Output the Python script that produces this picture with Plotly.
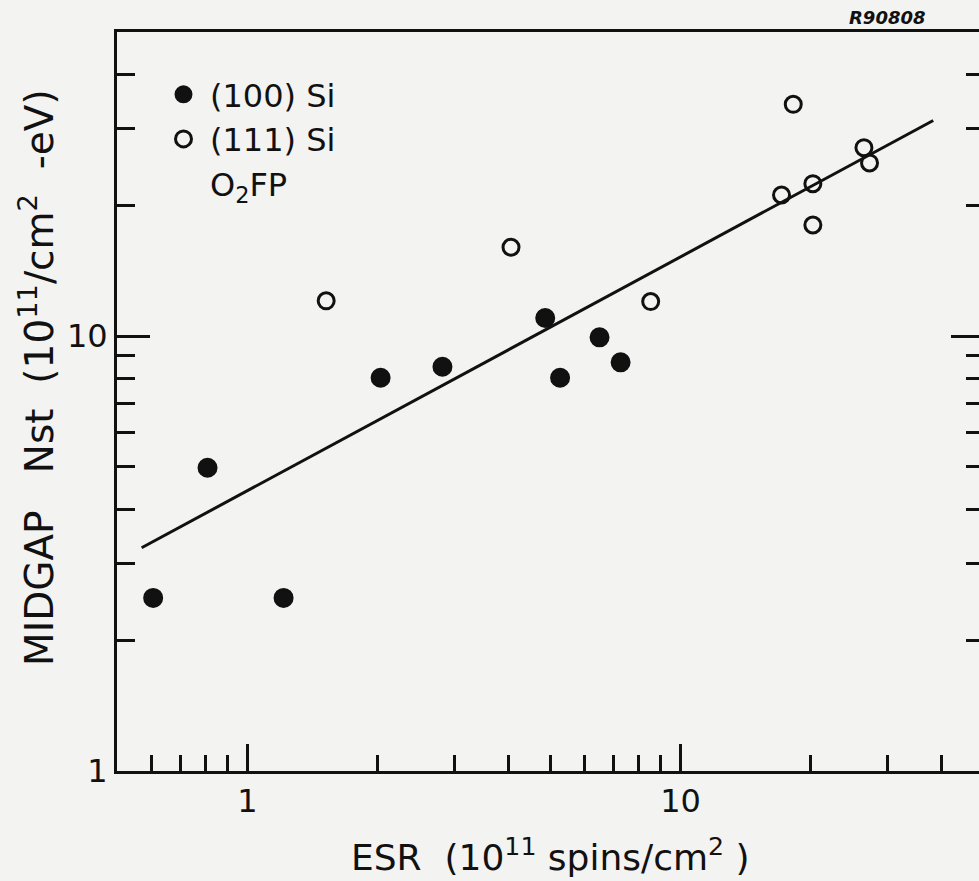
import plotly.graph_objects as go
import math

# (100) Si  -- filled circles
esr_100 = [0.606, 0.809, 1.212, 2.03, 2.82, 4.87, 5.27, 6.50, 7.27]
nst_100 = [2.50, 4.98, 2.50, 8.02, 8.50, 11.0, 8.02, 9.93, 8.70]

# (111) Si -- open circles
esr_111 = [1.52, 4.06, 8.53, 17.1, 18.2, 20.2, 20.2, 26.5, 27.3]
nst_111 = [12.05, 16.0, 12.0, 21.1, 34.1, 22.4, 18.0, 27.1, 25.0]

# fitted line end points
fit_x = [0.570, 38.3]
fit_y = [3.26, 31.3]

x_minor = [0.6, 0.7, 0.8, 0.9, 2, 3, 4, 5, 6, 7, 8, 9, 20, 30, 40]
y_minor = [2, 3, 4, 5, 6, 7, 8, 9, 20, 30, 40]
major_ticks = [1, 10]

INK = "#111111"
BG = "#f3f3f1"
FONT = "DejaVu Sans"

W, H = 979, 881
L, R, T, B = 117, 0, 32, 110

fig = go.Figure()
fig.add_trace(go.Scatter(x=esr_100, y=nst_100, mode="markers", name="(100) Si",
                         marker=dict(symbol="circle", size=18, color=INK,
                                     line=dict(width=2, color=INK))))
fig.add_trace(go.Scatter(x=esr_111, y=nst_111, mode="markers", name="(111) Si",
                         marker=dict(symbol="circle-open", size=16, color=INK,
                                     line=dict(width=3, color=INK))))
fig.add_trace(go.Scatter(x=[None], y=[None], mode="markers", name="O<sub>2</sub>FP",
                         marker=dict(size=1, color="rgba(0,0,0,0)",
                                     line=dict(width=0, color="rgba(0,0,0,0)"))))
fig.add_trace(go.Scatter(x=fit_x, y=fit_y, mode="lines", showlegend=False,
                         line=dict(color=INK, width=3), yaxis="y2"))

xr = [math.log10(0.5), math.log10(48.85)]
yr = [0, math.log10(50)]

fig.update_layout(
    width=W, height=H,
    margin=dict(l=L, r=R, t=T, b=B),
    paper_bgcolor=BG, plot_bgcolor=BG,
    font=dict(family=FONT, color=INK, size=32),
    showlegend=True,
    legend=dict(x=(157 - L) / 862, y=(771 - 67) / 739, xanchor="left", yanchor="top",
                bgcolor="rgba(0,0,0,0)", font=dict(size=32, family=FONT, color=INK),
                itemwidth=43, tracegroupgap=0),
    xaxis=dict(type="log", range=xr, showgrid=False, zeroline=False,
               showline=True, linecolor=INK, linewidth=3, mirror=True,
               ticks="inside", ticklen=27, tickwidth=2.5, tickcolor=INK,
               tickvals=major_ticks, ticktext=[str(v) for v in major_ticks],
               tickfont=dict(size=32, family=FONT, color=INK),
               minor=dict(tickvals=x_minor, ticks="inside", ticklen=16,
                          tickwidth=2.5, tickcolor=INK, showgrid=False)),
    yaxis=dict(type="log", range=yr, showgrid=False, zeroline=False,
               showline=True, linecolor=INK, linewidth=3, mirror=False,
               ticks="inside", ticklen=33, tickwidth=2.5, tickcolor=INK,
               tickvals=major_ticks, ticktext=[str(v) for v in major_ticks],
               tickfont=dict(size=32, family=FONT, color=INK),
               minor=dict(tickvals=y_minor, ticks="inside", ticklen=18,
                          tickwidth=2.5, tickcolor=INK, showgrid=False)),
    yaxis2=dict(type="log", range=yr, overlaying="y", side="right",
                showgrid=False, zeroline=False, showline=False,
                ticks="inside", ticklen=28, tickwidth=2.5, tickcolor=INK,
                tickvals=major_ticks, showticklabels=False,
                minor=dict(tickvals=y_minor, ticks="inside", ticklen=13,
                           tickwidth=2.5, tickcolor=INK, showgrid=False)),
)

annotations = [
    dict(text="ESR\u00a0 (10<sup>11</sup> spins/cm<sup>2</sup>\u00a0)",
         xref="paper", yref="paper", x=(550 - L) / 862, y=(771 - 855) / 739,
         xanchor="center", yanchor="middle", showarrow=False,
         font=dict(size=36, family=FONT, color=INK)),
    dict(text="MIDGAP\u00a0\u00a0\u00a0Nst\u00a0 (10<sup>11</sup>/cm<sup>2</sup>\u00a0\u00a0-eV)",
         xref="paper", yref="paper", x=(37 - L) / 862, y=(771 - 378) / 739,
         xanchor="center", yanchor="middle", textangle=-90, showarrow=False,
         font=dict(size=39, family=FONT, color=INK)),
    dict(text="<b><i>R90808</i></b>",
         xref="paper", yref="paper", x=(887 - L) / 862, y=(771 - 17.5) / 739,
         xanchor="center", yanchor="middle", showarrow=False,
         font=dict(size=18, family=FONT, color=INK)),
]
fig.update_layout(annotations=annotations)

fig.write_html("out.html", config={"displayModeBar": False},
               post_script="document.body.style.margin='0';document.body.style.background='%s';" % BG)
